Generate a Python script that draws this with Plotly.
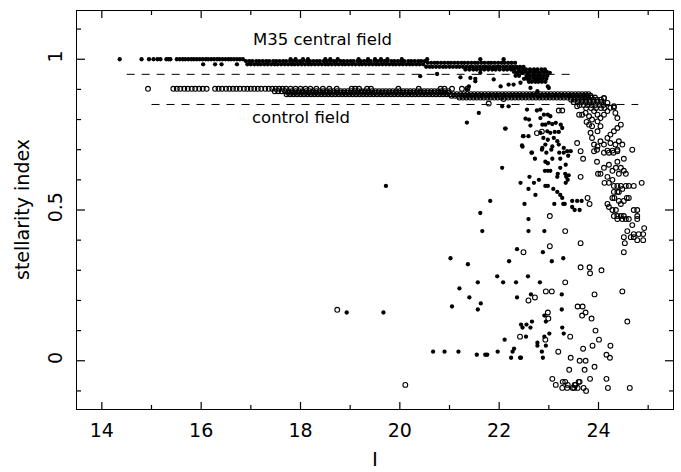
import plotly.graph_objects as go

# ---------------- M35 central field (filled dots) ----------------
m35_r1000_x = [14.36, 14.80, 14.95, 15.04, 15.12, 15.18, 15.30, 15.34, 15.38, 15.51, 15.57, 15.63, 15.68,
               15.74, 15.80, 15.85, 15.91, 15.97, 16.03, 16.09, 16.14, 16.20, 16.26, 16.32, 16.37, 16.43,
               16.49, 16.55, 16.60, 16.66, 16.72, 16.78, 16.84, 17.80, 17.90, 18.05, 18.15, 18.50, 18.60,
               18.75, 19.17, 19.36, 19.50, 19.62, 19.75, 20.04, 20.55, 21.62, 22.09]
m35_r1000_y = 1.0
m35_r0994_x = [16.90, 16.97, 17.03, 17.11, 17.17, 17.24, 17.31, 17.37, 17.45, 17.51, 17.58, 17.65, 17.71,
               17.79, 17.85, 17.92, 17.99, 18.05, 18.13, 18.19, 18.26, 18.33, 18.39, 18.47, 18.53, 18.60,
               18.67, 18.73, 18.81, 18.87, 18.94, 19.01, 19.07, 19.15, 19.21, 19.28, 19.35, 19.41, 19.49,
               19.55, 19.62, 19.69, 19.75, 19.83, 19.89, 19.96, 20.03, 20.09, 20.17, 20.23, 20.30, 20.37,
               20.43, 20.50]
m35_r0994_y = 0.994
m35_r0983_x = [16.04, 16.28, 16.41, 16.72, 16.93, 17.00, 17.07, 17.14, 17.20, 17.27, 17.34, 17.41, 17.48,
               17.54, 17.61, 17.68, 17.75, 17.82, 17.88, 17.95, 18.02, 18.09, 18.16, 18.22, 18.29, 18.36,
               18.43, 18.50, 18.56, 18.63, 18.70, 18.77, 18.84, 18.90, 18.97, 19.04, 19.11, 19.18, 19.24,
               19.31, 19.38, 19.45, 19.52, 19.58, 19.65, 19.72, 19.79, 19.86, 19.92, 19.99, 20.06, 20.13,
               20.20, 20.26, 20.33, 20.40, 20.47]
m35_r0983_y = 0.983
m35_r0988_x = [20.56, 20.63, 20.70, 20.76, 20.83, 20.90, 20.97, 21.03, 21.10, 21.17, 21.24, 21.30, 21.37,
               21.44, 21.51, 21.57, 21.64, 21.71, 21.78, 21.84, 21.91, 21.98, 22.05, 22.11, 22.18, 22.25,
               22.32]
m35_r0988_y = 0.988
m35_r0975_x = [20.53, 20.60, 20.66, 20.73, 20.80, 20.87, 20.93, 21.00, 21.07, 21.14, 21.20, 21.27, 21.34,
               21.41, 21.47, 21.54, 21.61, 21.68, 21.74, 21.81, 21.88, 21.95, 22.01, 22.08, 22.15, 22.22,
               22.28, 22.35, 22.42, 22.49]
m35_r0975_y = 0.975
m35_r0966_x = [21.32, 21.40, 21.48, 21.55, 21.63, 21.70, 21.78, 21.86, 21.93, 22.01, 22.09, 22.16, 22.24,
               22.31, 22.39, 22.47, 22.54, 22.62, 22.70, 22.77, 22.85, 22.92]
m35_r0966_y = 0.966

m35_x = [22.30, 22.36, 22.42, 22.47, 22.52, 22.58, 22.63, 22.69, 22.74, 22.80, 22.85, 22.91, 22.96, 23.02,
         22.33, 22.40, 22.55, 22.61, 22.67, 22.72, 22.78, 22.84, 22.90, 22.97,
         22.50, 22.56, 22.62, 22.70, 22.76, 22.82, 22.88, 22.95,
         22.60, 22.66, 22.73, 22.79, 22.86, 22.93,
         20.41, 20.75, 21.22, 21.42, 21.52, 21.52, 21.62, 21.39, 21.35,
         21.89, 22.03, 22.19, 22.29, 22.43, 22.63, 22.77, 22.66, 22.80, 22.98, 23.00,
         22.06, 22.19, 22.56, 21.59, 21.35, 22.13, 22.53, 22.60, 22.63, 22.48, 22.47, 22.66, 22.76,
         22.12, 22.49, 22.59, 22.46,
         22.83, 22.90, 22.83, 22.98, 23.03, 22.87, 22.93, 23.00, 23.07, 23.14, 23.24, 22.97, 23.03,
         23.12, 23.20, 23.27, 22.83, 22.89, 22.98, 23.10, 23.17, 22.93, 22.87, 23.07, 23.20, 23.30,
         23.37, 23.44,
         22.65, 22.86, 22.95, 23.05, 23.21, 23.30, 23.39, 23.23, 23.07, 22.72, 22.93, 22.98, 22.92,
         22.98, 23.03, 23.18, 23.33, 23.40, 23.23, 23.34, 23.17, 23.35, 23.38, 23.34, 22.06, 22.43,
         22.61, 22.70, 22.80, 22.59, 22.73, 21.82, 22.51, 22.93, 22.98, 23.09, 23.17, 23.23, 23.27,
         23.11, 23.29, 23.32, 23.47, 23.57, 23.66, 23.47, 23.52, 23.62, 21.62, 22.59, 21.66, 22.59,
         22.91, 22.36, 22.88, 23.29,
         19.72, 18.93, 19.67,
         21.02, 21.37, 22.20, 23.06, 21.20, 21.57, 21.96, 22.08, 22.34, 22.58, 22.82, 21.40, 21.05,
         21.63, 21.57, 22.36, 22.64, 23.26, 23.26, 22.91, 22.94, 22.66, 22.44, 22.55, 22.47, 22.63,
         23.27, 23.30, 23.01, 22.54, 22.91, 22.11, 22.77, 22.77, 22.94, 20.67, 20.90, 21.18, 21.55,
         21.72, 21.76, 21.97, 22.27, 22.30, 22.24, 22.42, 22.44, 22.86, 22.88]
m35_y = [0.958, 0.955, 0.958, 0.955, 0.958, 0.955, 0.958, 0.955, 0.958, 0.955, 0.958, 0.955, 0.958, 0.955,
         0.945, 0.945, 0.945, 0.945, 0.945, 0.945, 0.945, 0.945, 0.945, 0.945,
         0.935, 0.935, 0.935, 0.935, 0.935, 0.935, 0.935, 0.935,
         0.925, 0.925, 0.925, 0.925, 0.925, 0.925,
         0.944, 0.951, 0.940, 0.938, 0.935, 0.927, 0.955, 0.910, 0.900,
         0.933, 0.910, 0.916, 0.916, 0.922, 0.905, 0.894, 0.883, 0.877, 0.910, 0.905,
         0.844, 0.844, 0.833, 0.822, 0.790, 0.770, 0.803, 0.800, 0.780, 0.745, 0.710, 0.690, 0.830,
         0.770, 0.745, 0.745, 0.714,
         0.833, 0.816, 0.805, 0.816, 0.811, 0.783, 0.783, 0.789, 0.785, 0.789, 0.783, 0.761, 0.756,
         0.759, 0.759, 0.772, 0.756, 0.739, 0.733, 0.739, 0.728, 0.717, 0.706, 0.711, 0.717, 0.706,
         0.695, 0.695,
         0.690, 0.700, 0.690, 0.700, 0.690, 0.690, 0.680, 0.670, 0.670, 0.670, 0.660, 0.655, 0.630,
         0.630, 0.630, 0.620, 0.620, 0.615, 0.640, 0.650, 0.610, 0.610, 0.600, 0.590, 0.640, 0.590,
         0.610, 0.590, 0.600, 0.570, 0.550, 0.530, 0.520, 0.580, 0.580, 0.570, 0.560, 0.550, 0.540,
         0.520, 0.520, 0.520, 0.530, 0.530, 0.530, 0.510, 0.500, 0.500, 0.490, 0.470, 0.430, 0.430,
         0.430, 0.370, 0.360, 0.340,
         0.580, 0.160, 0.160,
         0.340, 0.320, 0.330, 0.330, 0.240, 0.260, 0.280, 0.260, 0.260, 0.280, 0.260, 0.210, 0.180,
         0.190, 0.170, 0.210, 0.220, 0.220, 0.170, 0.150, 0.130, 0.130, 0.120, 0.120, 0.110, 0.110,
         0.110, 0.090, 0.090, 0.080, 0.080, 0.070, 0.060, 0.050, 0.050, 0.030, 0.030, 0.030, 0.020,
         0.020, 0.020, 0.030, 0.030, 0.040, 0.010, 0.010, 0.010, 0.030, 0.010]

# ---------------- control field (open circles) ----------------
ctrl_r0902_x = [14.93, 15.44, 15.51, 15.58, 15.66, 15.73, 15.81, 15.88, 15.96, 16.03, 16.11, 16.28, 16.35,
                16.42, 16.50, 16.57, 16.64, 16.71, 16.78, 16.86, 16.93, 17.00, 17.07, 17.14, 17.21, 17.29,
                17.36, 17.43, 17.50, 17.57, 17.64, 17.71, 17.80, 17.90, 18.00, 18.10, 18.20, 18.32, 18.45,
                18.58, 18.73, 19.03, 19.10, 19.18, 19.34, 19.42, 19.97, 20.38, 20.82, 20.90, 21.05, 21.25,
                21.36]
ctrl_r0902_y = 0.902
ctrl_r0894_x = [17.48, 17.55, 17.62, 17.69, 17.76, 17.83, 17.90, 17.97, 18.04, 18.11, 18.18, 18.25, 18.32,
                18.39, 18.46, 18.53, 18.60, 18.67, 18.74, 18.81, 18.88, 18.95, 19.02, 19.09, 19.16, 19.23,
                19.30, 19.37, 19.44, 19.51, 19.58, 19.65, 19.72, 19.79, 19.86, 19.93, 20.00, 20.07, 20.14,
                20.21, 20.28, 20.35, 20.42, 20.49, 20.56, 20.63, 20.70, 20.77, 20.84, 20.91, 20.98]
ctrl_r0894_y = 0.894
ctrl_r0890_x = [17.75, 17.82, 17.89, 17.96, 18.03, 18.10, 18.17, 18.24, 18.31, 18.38, 18.45, 18.52, 18.59,
                18.66, 18.73, 18.80, 18.87, 18.94, 19.01, 19.08, 19.15, 19.22, 19.29, 19.36, 19.43, 19.50,
                19.57, 19.64, 19.71, 19.78, 19.85, 19.92, 19.99, 20.06, 20.13, 20.20, 20.27, 20.34, 20.41,
                20.48, 20.55, 20.62, 20.69, 20.76, 20.83, 20.90, 20.97]
ctrl_r0890_y = 0.889
ctrl_r0886_x = [17.72, 17.79, 17.86, 17.93, 18.00, 18.07, 18.14, 18.21, 18.28, 18.35, 18.42, 18.49, 18.56,
                18.63, 18.70, 18.77, 18.84, 18.91, 18.98, 19.05, 19.12, 19.19, 19.26, 19.33, 19.40, 19.47,
                19.54, 19.61, 19.68, 19.75, 19.82, 19.89, 19.96, 20.03, 20.10, 20.17, 20.24, 20.31, 20.38,
                20.45, 20.52, 20.59, 20.66, 20.73, 20.80, 20.87, 20.94]
ctrl_r0886_y = 0.884
ctrl_r0882_x = [21.01, 21.08, 21.15, 21.22, 21.29, 21.36, 21.43, 21.50, 21.57, 21.64, 21.71, 21.78, 21.85,
                21.92, 21.99, 22.06, 22.13, 22.20, 22.27, 22.34, 22.41, 22.48, 22.55, 22.62, 22.69, 22.76,
                22.83, 22.90, 22.97, 23.04, 23.11, 23.18, 23.25, 23.32, 23.39, 23.46, 23.53, 23.60, 23.67,
                23.74, 23.80]
ctrl_r0882_y = 0.884
ctrl_r0878_x = [21.04, 21.11, 21.18, 21.25, 21.32, 21.39, 21.46, 21.53, 21.60, 21.67, 21.74, 21.81, 21.88,
                21.95, 22.02, 22.09, 22.16, 22.23, 22.30, 22.37, 22.44, 22.51, 22.58, 22.65, 22.72, 22.79,
                22.86, 22.93, 23.00, 23.07, 23.14, 23.21, 23.28, 23.35, 23.42, 23.49, 23.56, 23.63, 23.70,
                23.77, 23.84]
ctrl_r0878_y = 0.879
ctrl_r0874_x = [21.20, 21.27, 21.34, 21.41, 21.48, 21.55, 21.62, 21.69, 21.76, 21.83, 21.90, 21.97, 22.04,
                22.11, 22.18, 22.25, 22.32, 22.39, 22.46, 22.53, 22.60, 22.67, 22.74, 22.81, 22.88, 22.95,
                23.02, 23.09, 23.16, 23.23, 23.30, 23.37, 23.44, 23.51, 23.58, 23.65, 23.72, 23.79, 23.86,
                23.93]
ctrl_r0874_y = 0.873

ctrl_x = [23.45, 23.52, 23.60, 23.68, 23.75, 23.82, 23.90, 23.97, 24.05,
          23.50, 23.58, 23.66, 23.74, 23.82, 23.90, 23.98, 24.06,
          23.62, 23.70, 23.78, 23.86, 23.94, 24.02, 24.10,
          23.75, 23.85, 23.95, 24.05, 24.12,
          21.79, 22.09, 23.20, 23.27, 22.76, 22.86,
          23.57, 23.61, 23.67, 23.74, 23.81, 23.87, 23.91, 23.98, 24.04, 24.11, 24.18, 24.11, 24.18,
          24.24, 24.31, 24.34, 24.38, 24.45, 24.38, 24.31, 24.24, 24.18, 24.24, 24.34, 24.41, 24.48,
          24.38, 24.28, 24.18, 24.11, 24.04, 23.98, 23.91, 23.87, 23.98, 24.04, 23.98, 23.87, 23.81,
          23.76, 23.84, 23.57, 23.64, 23.91, 24.68, 24.11, 24.31,
          23.69, 23.64, 23.78, 23.82, 23.02, 23.33, 23.02, 23.64, 22.49,
          23.97, 24.11, 24.21, 24.30, 24.38, 24.51, 24.38, 24.21, 24.11, 23.97, 23.99, 24.04, 24.18,
          24.28, 24.35, 24.45, 24.51, 24.55, 24.41, 24.28, 24.21, 24.12, 24.31, 24.38, 24.45, 24.55,
          24.61, 24.71, 24.87, 24.38, 24.31, 24.28, 24.32, 24.41, 24.48, 24.57, 24.61, 24.51, 24.41,
          24.45, 24.18, 24.21, 24.28, 24.35, 24.31, 24.38, 24.45, 24.51, 24.55, 24.48, 24.38, 24.61,
          24.71, 24.78, 24.78, 24.78, 24.68, 24.58, 24.65, 24.71, 24.81, 24.90, 24.92, 24.90, 24.78,
          24.71, 24.51, 24.53, 24.51,
          23.64, 23.82, 23.83, 24.06, 23.33, 22.94, 23.06, 22.72, 22.59, 23.92, 24.48, 23.58, 23.68,
          23.74, 23.67, 22.98, 22.99, 23.86, 24.58, 23.94, 22.42, 23.43, 22.93, 24.01, 23.88, 24.24,
          23.69, 23.19, 24.16, 24.23, 23.44, 23.62, 23.74, 23.92, 23.41, 23.72, 23.07, 23.83, 24.16,
          23.28, 23.33, 23.60, 23.62, 23.14, 23.38, 23.52, 23.54, 23.27, 23.37, 23.48, 23.51, 23.58,
          23.70, 23.75, 24.19, 24.63,
          18.74, 20.11]
ctrl_y = [0.866, 0.866, 0.866, 0.866, 0.866, 0.866, 0.866, 0.866, 0.866,
          0.858, 0.858, 0.858, 0.858, 0.858, 0.858, 0.858, 0.858,
          0.848, 0.848, 0.848, 0.848, 0.848, 0.848, 0.848,
          0.838, 0.838, 0.838, 0.838, 0.838,
          0.853, 0.868, 0.830, 0.830, 0.755, 0.760,
          0.844, 0.816, 0.816, 0.822, 0.811, 0.800, 0.828, 0.816, 0.805, 0.816, 0.828, 0.872, 0.855,
          0.839, 0.844, 0.822, 0.805, 0.783, 0.772, 0.761, 0.750, 0.739, 0.722, 0.717, 0.728, 0.717,
          0.695, 0.697, 0.697, 0.717, 0.728, 0.711, 0.717, 0.739, 0.761, 0.778, 0.794, 0.778, 0.783,
          0.792, 0.756, 0.722, 0.695, 0.695, 0.700, 0.870, 0.840,
          0.670, 0.610, 0.540, 0.520, 0.480, 0.430, 0.380, 0.390, 0.360,
          0.700, 0.690, 0.690, 0.690, 0.700, 0.670, 0.660, 0.650, 0.640, 0.660, 0.620, 0.620, 0.610,
          0.630, 0.640, 0.640, 0.630, 0.620, 0.620, 0.600, 0.590, 0.590, 0.580, 0.580, 0.580, 0.580,
          0.580, 0.580, 0.590, 0.560, 0.560, 0.540, 0.540, 0.560, 0.570, 0.540, 0.540, 0.530, 0.530,
          0.520, 0.520, 0.510, 0.500, 0.500, 0.480, 0.480, 0.480, 0.480, 0.470, 0.470, 0.470, 0.470,
          0.500, 0.500, 0.480, 0.470, 0.450, 0.430, 0.410, 0.420, 0.420, 0.420, 0.440, 0.400, 0.400,
          0.410, 0.410, 0.390, 0.360,
          0.310, 0.310, 0.290, 0.300, 0.260, 0.230, 0.230, 0.210, 0.200, 0.220, 0.230, 0.180, 0.180,
          0.160, 0.150, 0.160, 0.140, 0.140, 0.130, 0.100, 0.080, 0.080, 0.070, 0.070, 0.050, 0.050,
          0.040, 0.030, 0.020, 0.010, 0.010, 0.000, 0.000, -0.020, -0.030, -0.030, -0.060, -0.060, -0.060,
          -0.070, -0.070, -0.070, -0.070, -0.080, -0.080, -0.080, -0.080, -0.090, -0.090, -0.090, -0.090, -0.090,
          -0.090, -0.100, -0.090, -0.090,
          0.169, -0.080]

# dashed reference lines
dash_y = [0.95, 0.85]
dash_x0 = [14.5, 15.0]
dash_x1 = [23.5, 24.8]

# axis ranges and tick values
x_range = [13.5, 25.5]
y_range = [-0.16, 1.16]
x_major = [14, 16, 18, 20, 22, 24]
x_minor = [15, 17, 19, 21, 23, 25]
y_major = [0, 0.5, 1]
y_minor = [-0.1, 0.1, 0.2, 0.3, 0.4, 0.6, 0.7, 0.8, 0.9, 1.1]

FONT = "DejaVu Sans"
W, H = 681, 472
M = dict(l=77, r=8, t=11, b=63)

def rows(*pairs):
    xs, ys = [], []
    for xl, yv in pairs:
        xs += xl
        ys += [yv] * len(xl)
    return xs, ys

cx, cy = rows((ctrl_r0902_x, ctrl_r0902_y), (ctrl_r0894_x, ctrl_r0894_y), (ctrl_r0890_x, ctrl_r0890_y),
              (ctrl_r0886_x, ctrl_r0886_y), (ctrl_r0882_x, ctrl_r0882_y), (ctrl_r0878_x, ctrl_r0878_y),
              (ctrl_r0874_x, ctrl_r0874_y))
cx += ctrl_x
cy += ctrl_y
mx, my = rows((m35_r1000_x, m35_r1000_y), (m35_r0994_x, m35_r0994_y), (m35_r0983_x, m35_r0983_y),
              (m35_r0988_x, m35_r0988_y), (m35_r0975_x, m35_r0975_y), (m35_r0966_x, m35_r0966_y))
mx += m35_x
my += m35_y

fig = go.Figure()
for y, x0, x1 in zip(dash_y, dash_x0, dash_x1):
    fig.add_trace(go.Scatter(x=[x0, x1], y=[y, y], mode="lines",
                             line=dict(color="black", width=1, dash="8px,7px"),
                             hoverinfo="skip", showlegend=False))
fig.add_trace(go.Scatter(x=cx, y=cy, mode="markers", name="control field",
                         marker=dict(symbol="circle-open", size=4.8, color="black",
                                     line=dict(width=1.1, color="black")),
                         showlegend=False))
fig.add_trace(go.Scatter(x=mx, y=my, mode="markers", name="M35 central field",
                         marker=dict(symbol="circle", size=4.3, color="black", line=dict(width=0)),
                         showlegend=False))

# inward frame ticks as short line segments starting at each frame edge
px_per_y = (H - M["t"] - M["b"]) / (y_range[1] - y_range[0])
px_per_x = (W - M["l"] - M["r"]) / (x_range[1] - x_range[0])

def tick_segments(vals, length_px, vertical):
    xs, ys = [], []
    if vertical:   # ticks on bottom and top edges
        d = length_px / px_per_y
        for v in vals:
            xs += [v, v, None, v, v, None]
            ys += [y_range[0], y_range[0] + d, None, y_range[1], y_range[1] - d, None]
    else:          # ticks on left and right edges
        d = length_px / px_per_x
        for v in vals:
            xs += [x_range[0], x_range[0] + d, None, x_range[1], x_range[1] - d, None]
            ys += [v, v, None, v, v, None]
    fig.add_trace(go.Scatter(x=xs, y=ys, mode="lines", line=dict(color="black", width=1.2),
                             hoverinfo="skip", showlegend=False, cliponaxis=False))

tick_segments(x_major, 7, True)
tick_segments(x_minor, 4, True)
tick_segments(y_major, 8, False)
tick_segments(y_minor, 4, False)

common = dict(showline=True, linecolor="black", linewidth=1.3, mirror=True, ticks="",
              showgrid=False, zeroline=False, tickfont=dict(family=FONT, size=19, color="black"))
fig.update_xaxes(range=x_range, tickmode="array", tickvals=x_major, ticklabelstandoff=4, **common)
fig.update_yaxes(range=y_range, tickmode="array", tickvals=y_major, ticktext=["0", "0.5", "1"],
                 tickangle=-90, ticklabelstandoff=6, **common)

fig.add_annotation(x=18.44, y=1.065, xref="x", yref="y", text="M35 central field", showarrow=False,
                   font=dict(family=FONT, size=16.5, color="black"))
fig.add_annotation(x=18.01, y=0.806, xref="x", yref="y", text="control field", showarrow=False,
                   font=dict(family=FONT, size=16.5, color="black"))
fig.add_annotation(x=0, xref="paper", xshift=-55, xanchor="center", y=0.5, yref="y",
                   text="stellarity index", textangle=-90, showarrow=False,
                   font=dict(family=FONT, size=19, color="black"))
fig.add_annotation(x=0.5, xref="paper", y=0, yref="paper", yanchor="top", yshift=-36, text="I",
                   showarrow=False, font=dict(family=FONT, size=20, color="black"))

fig.update_layout(width=W, height=H, margin=M, paper_bgcolor="white", plot_bgcolor="white")
fig.write_html("out.html")
